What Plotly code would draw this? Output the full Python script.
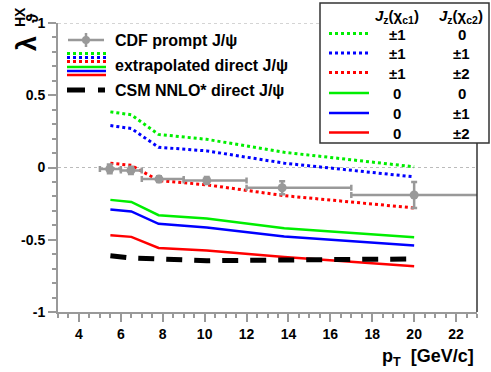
import plotly.graph_objects as go

# ---------------- data ----------------
pt_theory = [5.5, 6.5, 7.8, 10.1, 13.8, 20.0]
green_dot = [0.385, 0.365, 0.229, 0.195, 0.105, 0.005]
blue_dot = [0.29, 0.27, 0.14, 0.115, 0.03, -0.065]
red_dot = [0.03, 0.015, -0.09, -0.12, -0.195, -0.28]
green_sol = [-0.224, -0.238, -0.33, -0.353, -0.42, -0.483]
blue_sol = [-0.29, -0.304, -0.39, -0.415, -0.477, -0.54]
red_sol = [-0.468, -0.48, -0.557, -0.575, -0.62, -0.683]
csm = [-0.61, -0.626, -0.633, -0.645, -0.64, -0.633]

pt_cdf = [5.47, 6.48, 7.82, 10.1, 13.7, 20.0]
bin_lo = [5, 6, 7, 9, 12, 17]
bin_hi = [6, 7, 9, 12, 17, 30]
lam_cdf = [-0.01, -0.02, -0.08, -0.09, -0.14, -0.19]
err_cdf = [0.03, 0.025, 0.02, 0.025, 0.045, 0.09]

legend_rows = [("±1", "0"), ("±1", "±1"), ("±1", "±2"), ("0", "0"), ("0", "±1"), ("0", "±2")]
legend_styles = [("#00ee00", "dot"), ("#0000ff", "dot"), ("#ff0000", "dot"),
                 ("#00ee00", "solid"), ("#0000ff", "solid"), ("#ff0000", "solid")]

FONT = "Liberation Sans, Arial, Helvetica, sans-serif"
W, H = 491, 372
L, R, T, B = 58, 477, 23, 312


def px(x):
    return (x - L) / (R - L)


def py(y):
    return (B - y) / (B - T)


DOT = "3px,3px"
fig = go.Figure()

curves = [(green_dot, "#00ee00", DOT, 3), (blue_dot, "#0000ff", DOT, 3), (red_dot, "#ff0000", DOT, 3),
          (green_sol, "#00ee00", "solid", 2.5), (blue_sol, "#0000ff", "solid", 2.5),
          (red_sol, "#ff0000", "solid", 2.5)]
for ys, col, dash, w in curves:
    fig.add_trace(go.Scatter(x=pt_theory, y=ys, mode="lines",
                             line=dict(color=col, dash=dash, width=w), showlegend=False))

fig.add_trace(go.Scatter(x=pt_theory, y=csm, mode="lines",
                         line=dict(color="black", dash="16px,12px", width=5), showlegend=False))

fig.add_trace(go.Scatter(
    x=pt_cdf, y=lam_cdf, mode="markers",
    marker=dict(color="#999999", size=9, symbol="circle"),
    error_x=dict(type="data", symmetric=False,
                 array=[h - x for h, x in zip(bin_hi, pt_cdf)],
                 arrayminus=[x - l for l, x in zip(bin_lo, pt_cdf)],
                 color="#999999", thickness=2.5, width=3),
    error_y=dict(type="data", array=err_cdf, color="#999999", thickness=2.5, width=3),
    showlegend=False))

shapes = []
annotations = []
# zero line and top dashed frame line
shapes.append(dict(type="line", xref="paper", yref="y", x0=0, x1=1, y0=0, y1=0,
                   line=dict(color="#bbbbbb", width=1, dash="3px,3px"), layer="below"))
shapes.append(dict(type="line", xref="paper", yref="y", x0=0, x1=1, y0=1, y1=1,
                   line=dict(color="#aaaaaa", width=1, dash="3px,3px"), layer="below"))
# right frame line
shapes.append(dict(type="line", xref="paper", yref="paper", x0=1, x1=1, y0=0, y1=1,
                   line=dict(color="#333333", width=1.5)))

# ---- top-left legend ----
lx0, lx1 = 68, 104
shapes.append(dict(type="line", xref="paper", yref="paper", x0=px(lx0), x1=px(lx1),
                   y0=py(40), y1=py(40), line=dict(color="#999999", width=2.5)))
shapes.append(dict(type="line", xref="paper", yref="paper", x0=px(86), x1=px(86),
                   y0=py(33), y1=py(47), line=dict(color="#999999", width=2.5)))
shapes.append(dict(type="circle", xref="paper", yref="paper", x0=px(82), x1=px(90),
                   y0=py(36), y1=py(44), fillcolor="#999999", line=dict(width=0)))
for (col, dash), yy in zip(legend_styles, [53.5, 57.5, 61.5, 67, 71, 75]):
    shapes.append(dict(type="line", xref="paper", yref="paper", x0=px(67), x1=px(106),
                       y0=py(yy), y1=py(yy),
                       line=dict(color=col, width=3 if dash == "dot" else 2.5,
                                 dash=DOT if dash == "dot" else "solid")))
shapes.append(dict(type="line", xref="paper", yref="paper", x0=px(67), x1=px(85),
                   y0=py(90), y1=py(90), line=dict(color="black", width=5)))
shapes.append(dict(type="line", xref="paper", yref="paper", x0=px(98), x1=px(105),
                   y0=py(90), y1=py(90), line=dict(color="black", width=5)))
for txt, yy in [("CDF prompt J/ψ", 40.5), ("extrapolated direct J/ψ", 65.5),
                ("CSM NNLO* direct J/ψ", 90)]:
    annotations.append(dict(xref="paper", yref="paper", x=px(113), y=py(yy), text=txt,
                            showarrow=False, xanchor="left", yanchor="middle",
                            font=dict(family=FONT, size=16, color="black", weight="bold")))

# ---- right legend box ----
shapes.append(dict(type="rect", xref="paper", yref="paper", x0=px(320), x1=px(489),
                   y0=py(143), y1=py(3), fillcolor="white",
                   line=dict(color="#333333", width=1.5), layer="above"))
annotations.append(dict(xref="paper", yref="paper", x=px(397), y=py(16),
                        text="<i>J</i><sub>z</sub>(χ<sub>c1</sub>)", showarrow=False,
                        xanchor="center", yanchor="middle",
                        font=dict(family=FONT, size=15, color="black", weight="bold")))
annotations.append(dict(xref="paper", yref="paper", x=px(461), y=py(16),
                        text="<i>J</i><sub>z</sub>(χ<sub>c2</sub>)", showarrow=False,
                        xanchor="center", yanchor="middle",
                        font=dict(family=FONT, size=15, color="black", weight="bold")))
row_y = [34, 53.5, 73, 93.5, 113.5, 133]
for (c1, c2), (col, dash), yy in zip(legend_rows, legend_styles, row_y):
    shapes.append(dict(type="line", xref="paper", yref="paper", x0=px(329), x1=px(369),
                       y0=py(yy - 0.5), y1=py(yy - 0.5),
                       line=dict(color=col, width=3 if dash == "dot" else 2.5,
                                 dash=DOT if dash == "dot" else "solid")))
    for txt, xx in [(c1, 397), (c2, 461.5)]:
        annotations.append(dict(xref="paper", yref="paper", x=px(xx), y=py(yy), text=txt,
                                showarrow=False, xanchor="center", yanchor="middle",
                                font=dict(family=FONT, size=15, color="black", weight="bold")))

# ---- axis titles ----
annotations.append(dict(xref="paper", yref="paper", x=px(27), y=py(44), text="λ",
                        textangle=-90, showarrow=False, xanchor="center", yanchor="middle",
                        font=dict(family=FONT, size=27, color="black", weight="bold")))
annotations.append(dict(xref="paper", yref="paper", x=px(33), y=py(18), text="ϑ",
                        textangle=-90, showarrow=False, xanchor="center", yanchor="middle",
                        font=dict(family=FONT, size=16, color="black", weight="bold")))
annotations.append(dict(xref="paper", yref="paper", x=px(20), y=py(17), text="HX",
                        textangle=-90, showarrow=False, xanchor="center", yanchor="middle",
                        font=dict(family=FONT, size=14, color="black", weight="bold")))
annotations.append(dict(xref="paper", yref="paper", x=px(476), y=py(357),
                        text="p<sub>T</sub>  [GeV/c]", showarrow=False,
                        xanchor="right", yanchor="middle",
                        font=dict(family=FONT, size=18, color="black", weight="bold")))

axis_common = dict(showgrid=False, zeroline=False, showline=True, linecolor="#999999",
                   linewidth=2, ticks="outside", tickcolor="#999999", tickwidth=1.5,
                   ticklen=8,
                   tickfont=dict(family=FONT, size=14, color="black", weight="bold"))

fig.update_layout(
    width=W, height=H,
    margin=dict(l=L, r=W - R, t=T, b=H - B, pad=0),
    paper_bgcolor="white", plot_bgcolor="white",
    font=dict(family=FONT, color="black"),
    showlegend=False,
    xaxis=dict(range=[3, 23], tickmode="array", tickvals=[4, 6, 8, 10, 12, 14, 16, 18, 20, 22],
               minor=dict(dtick=0.5, tick0=3, ticks="outside", ticklen=4, tickcolor="#999999",
                          tickwidth=1.5),
               **axis_common),
    yaxis=dict(range=[-1, 1], tickmode="array", tickvals=[-1, -0.5, 0, 0.5, 1],
               ticktext=["-1", "-0.5", "0", "0.5", "1"],
               minor=dict(dtick=0.1, tick0=0, ticks="outside", ticklen=4, tickcolor="#999999",
                          tickwidth=1.5),
               **axis_common),
    shapes=shapes,
    annotations=annotations,
)

fig.write_html("out.html", config={"displayModeBar": False},
               post_script="document.body.style.margin='0';document.body.style.padding='0';")
